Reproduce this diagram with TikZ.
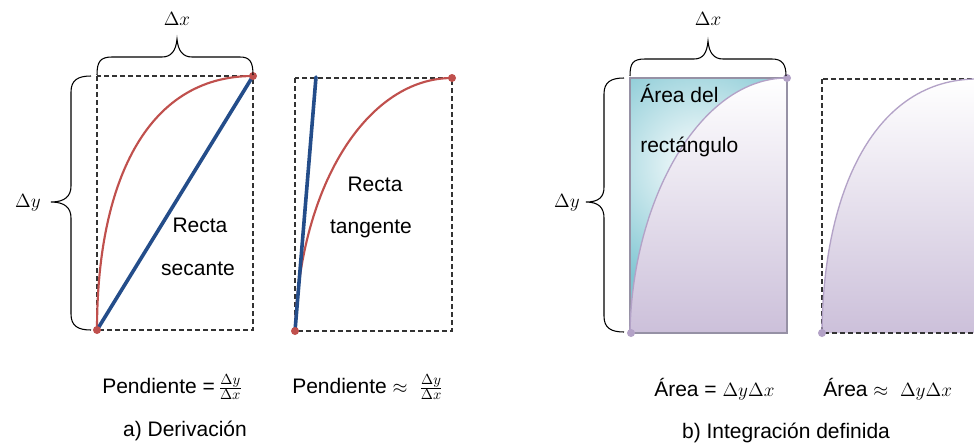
\documentclass[tikz,border=0pt]{standalone}
\usepackage{fontspec}
\setmainfont{Liberation Sans}
\definecolor{cred}{RGB}{192,80,77}
\definecolor{cblue}{RGB}{36,77,138}
\definecolor{lavline}{RGB}{179,162,199}
\definecolor{lavfill}{RGB}{204,192,218}
\definecolor{teal1}{RGB}{128,198,210}
\definecolor{rimgray}{RGB}{150,145,165}
\begin{document}
\begin{tikzpicture}[x=0.75pt,y=-0.75pt,
  dashbox/.style={draw=black!80, line width=1pt, dash pattern=on 3.9pt off 2.1pt},
  redcurve/.style={draw=cred, line width=1.6pt},
  blueline/.style={draw=cblue, line width=2.7pt, line cap=round},
  reddot/.style={fill=cred},
  lavdot/.style={fill=lavline},
  lavcurve/.style={draw=lavline, line width=1pt},
  bracepath/.style={draw=black, line width=0.8pt},
  lbl/.style={font=\fontsize{15.75}{19}\selectfont, inner sep=0pt},
  mlbl/.style={font=\fontsize{14}{16}\selectfont, inner sep=0pt},
]
\useasboundingbox (0,0) rectangle (974,447);
\fill[white] (0,0) rectangle (974,447);
\begin{scope}
\clip (0,0) rectangle (974,447);

% ===== Panel a: left box =====
\draw[dashbox] (97,76) rectangle (253,330);
\draw[redcurve] (97,330) .. controls (97,185) and (145,76) .. (253,76);
\draw[blueline] (97,330) -- (253,76);
\fill[reddot] (97,330) circle [radius=4];
\fill[reddot] (253,76) circle [radius=4];

% braces a
\draw[bracepath] (97,75) .. controls (97,62) and (100,57) .. (112,57) -- (162,57)
  .. controls (171,57) and (176,51) .. (177,39) .. controls (178,51) and (183,57) .. (192,57)
  -- (240,57) .. controls (250,57) and (253,62) .. (253,75);
\draw[bracepath] (91,76) .. controls (78,76) and (71,80) .. (71,92) -- (71,186)
  .. controls (71,196) and (65,202) .. (51,202) .. controls (65,202) and (71,208) .. (71,218)
  -- (71,314) .. controls (71,326) and (78,330) .. (91,330);
\node[mlbl] (dxa) at (177,19) {$\Delta x$};
\node[mlbl] (dya) at (28,203) {$\Delta y$};

\node[lbl, anchor=base] (recta1) at (200,232) {Recta};
\node[lbl, anchor=base] (secante) at (198,275) {secante};

% ===== Panel a: right box =====
\draw[dashbox] (295,78) rectangle (452,331);
\draw[redcurve] (295,331) .. controls (300,180) and (370,78) .. (452,78);
\draw[blueline] (295,331) -- (316,77);
\fill[reddot] (295,331) circle [radius=4];
\fill[reddot] (452,78) circle [radius=4];
\node[lbl, anchor=base] (recta2) at (375,191) {Recta};
\node[lbl, anchor=base] (tangente) at (371,233) {tangente};

\node[lbl, anchor=base west] (pend1) at (102,393) {Pendiente =\,$\frac{\Delta y}{\Delta x}$};
\node[lbl, anchor=base west] (pend2) at (292,393) {Pendiente $\approx$\ \ $\frac{\Delta y}{\Delta x}$};
\node[lbl, anchor=base] (capa) at (185,436) {a) Derivación};

% ===== Panel b: left box =====
\begin{scope}
\clip (630,78) rectangle (787,333);
\fill[teal1] (630,78) rectangle (787,333);
\shade[inner color=white, outer color=teal1] (700,165) circle [radius=130];
\end{scope}
\shade[top color=white, bottom color=lavfill] (630,333) .. controls (632,200) and (700,78) .. (787,78) -- (787,333) -- cycle;
\draw[draw=rimgray, line width=0.9pt] (630,78) rectangle (787,333);
\draw[lavcurve] (630,333) .. controls (632,200) and (700,78) .. (787,78);
\fill[lavdot] (631,333) circle [radius=4];
\fill[lavdot] (787,78) circle [radius=4];
\node[lbl, anchor=base west] (areadel) at (640,102) {Área del};
\node[lbl, anchor=base west] (rectang) at (640,152) {rectángulo};

% braces b
\draw[bracepath] (630,76) .. controls (630,63) and (633,59) .. (645,59) -- (694,59)
  .. controls (703,59) and (707,53) .. (708,41) .. controls (709,53) and (714,59) .. (723,59)
  -- (772,59) .. controls (782,59) and (786,64) .. (786,76);
\draw[bracepath] (624,78) .. controls (611,78) and (604,82) .. (604,94) -- (604,187)
  .. controls (604,197) and (599,202) .. (586,202) .. controls (599,202) and (604,208) .. (604,218)
  -- (604,316) .. controls (604,328) and (611,332) .. (624,332);
\node[mlbl] (dxb) at (708,19) {$\Delta x$};
\node[mlbl] (dyb) at (567,203) {$\Delta y$};

% ===== Panel b: right box =====
\shade[top color=white, bottom color=lavfill] (822,333) .. controls (823,190) and (875,79) .. (977,79) -- (977,333) -- cycle;
\draw[dashbox] (822,79) rectangle (979,333);
\draw[lavcurve] (822,333) .. controls (823,190) and (875,79) .. (977,79);
\fill[lavdot] (822,333) circle [radius=4];
\fill[lavdot] (978,79) circle [radius=4];

\node[lbl, anchor=base west] (area1) at (654,396) {Área = \mbox{\fontsize{13.5}{16}\selectfont$\Delta y\Delta x$}};
\node[lbl, anchor=base west] (area2) at (823,396) {Área $\approx$\ \ \mbox{\fontsize{13.5}{16}\selectfont$\Delta y\Delta x$}};
\node[lbl, anchor=base] (capb) at (786,438) {b) Integración definida};
\end{scope}
\end{tikzpicture}
\end{document}
